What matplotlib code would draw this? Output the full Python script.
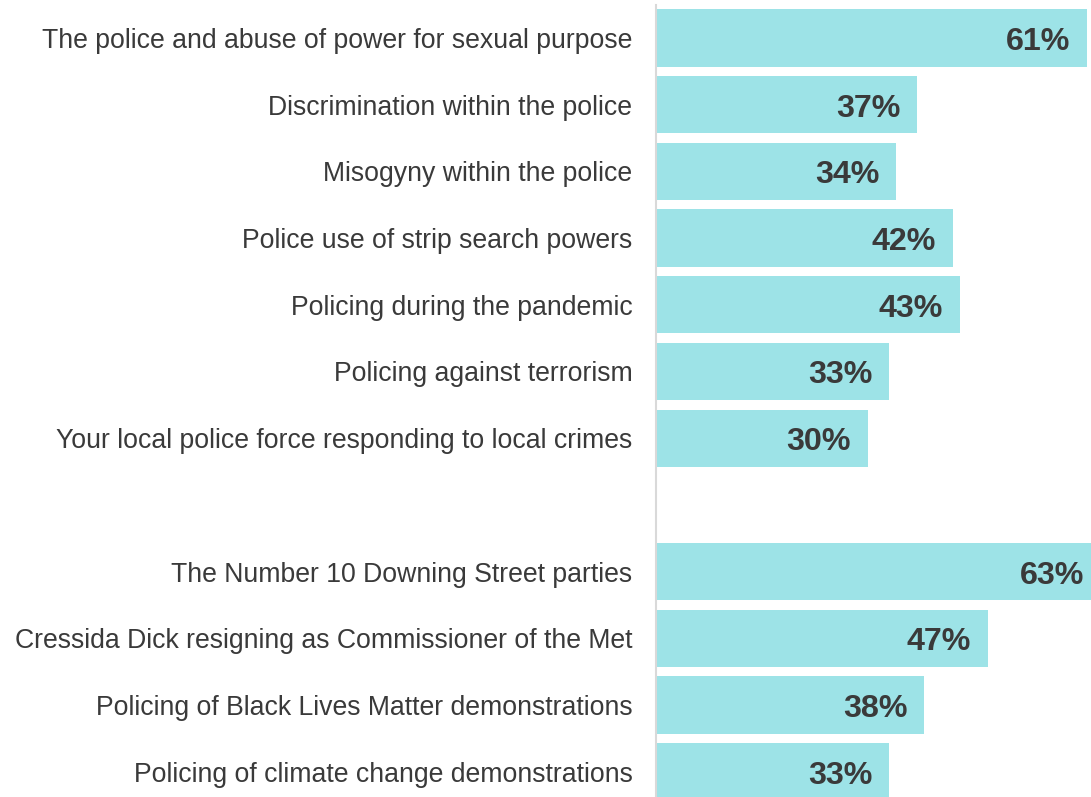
import matplotlib.pyplot as plt

# categories top to bottom, None marks the empty gap row
categories = ['The police and abuse of power for sexual purpose',
              'Discrimination within the police',
              'Misogyny within the police',
              'Police use of strip search powers',
              'Policing during the pandemic',
              'Policing against terrorism',
              'Your local police force responding to local crimes',
              None,
              'The Number 10 Downing Street parties',
              'Cressida Dick resigning as Commissioner of the Met',
              'Policing of Black Lives Matter demonstrations',
              'Policing of climate change demonstrations']
values = [61, 37, 34, 42, 43, 33, 30, None, 63, 47, 38, 33]

bar_color = '#9de3e7'
text_color = '#3a3a3a'

plt.rcParams['font.family'] = ['Liberation Sans', 'DejaVu Sans']

fig = plt.figure(figsize=(10.91, 7.97), dpi=100)
ax = fig.add_axes([656 / 1091, 0, 1 - 656 / 1091, 792 / 797])

pos = [i for i, v in enumerate(values) if v is not None]
vals = [values[i] for i in pos]
labels = [categories[i] for i in pos]

ax.barh(pos, vals, height=0.86, color=bar_color)

for p, v in zip(pos, vals):
    ax.text(v - 2.4, p + 0.06, f'{v}%', ha='right', va='center',
            fontsize=23.2, fontweight='bold', color=text_color)

ax.set_xlim(0, 61.6)
ax.set_ylim(11.38, -0.495)
ax.set_yticks(pos)
ax.set_yticklabels(labels, fontsize=19.2, color=text_color)
ax.tick_params(axis='y', length=0, pad=17)
ax.set_xticks([])

for s in ['top', 'right', 'bottom']:
    ax.spines[s].set_visible(False)
ax.spines['left'].set_color('#d9d9d9')
ax.spines['left'].set_linewidth(1.5)

fig.savefig('out.png', dpi=100)
